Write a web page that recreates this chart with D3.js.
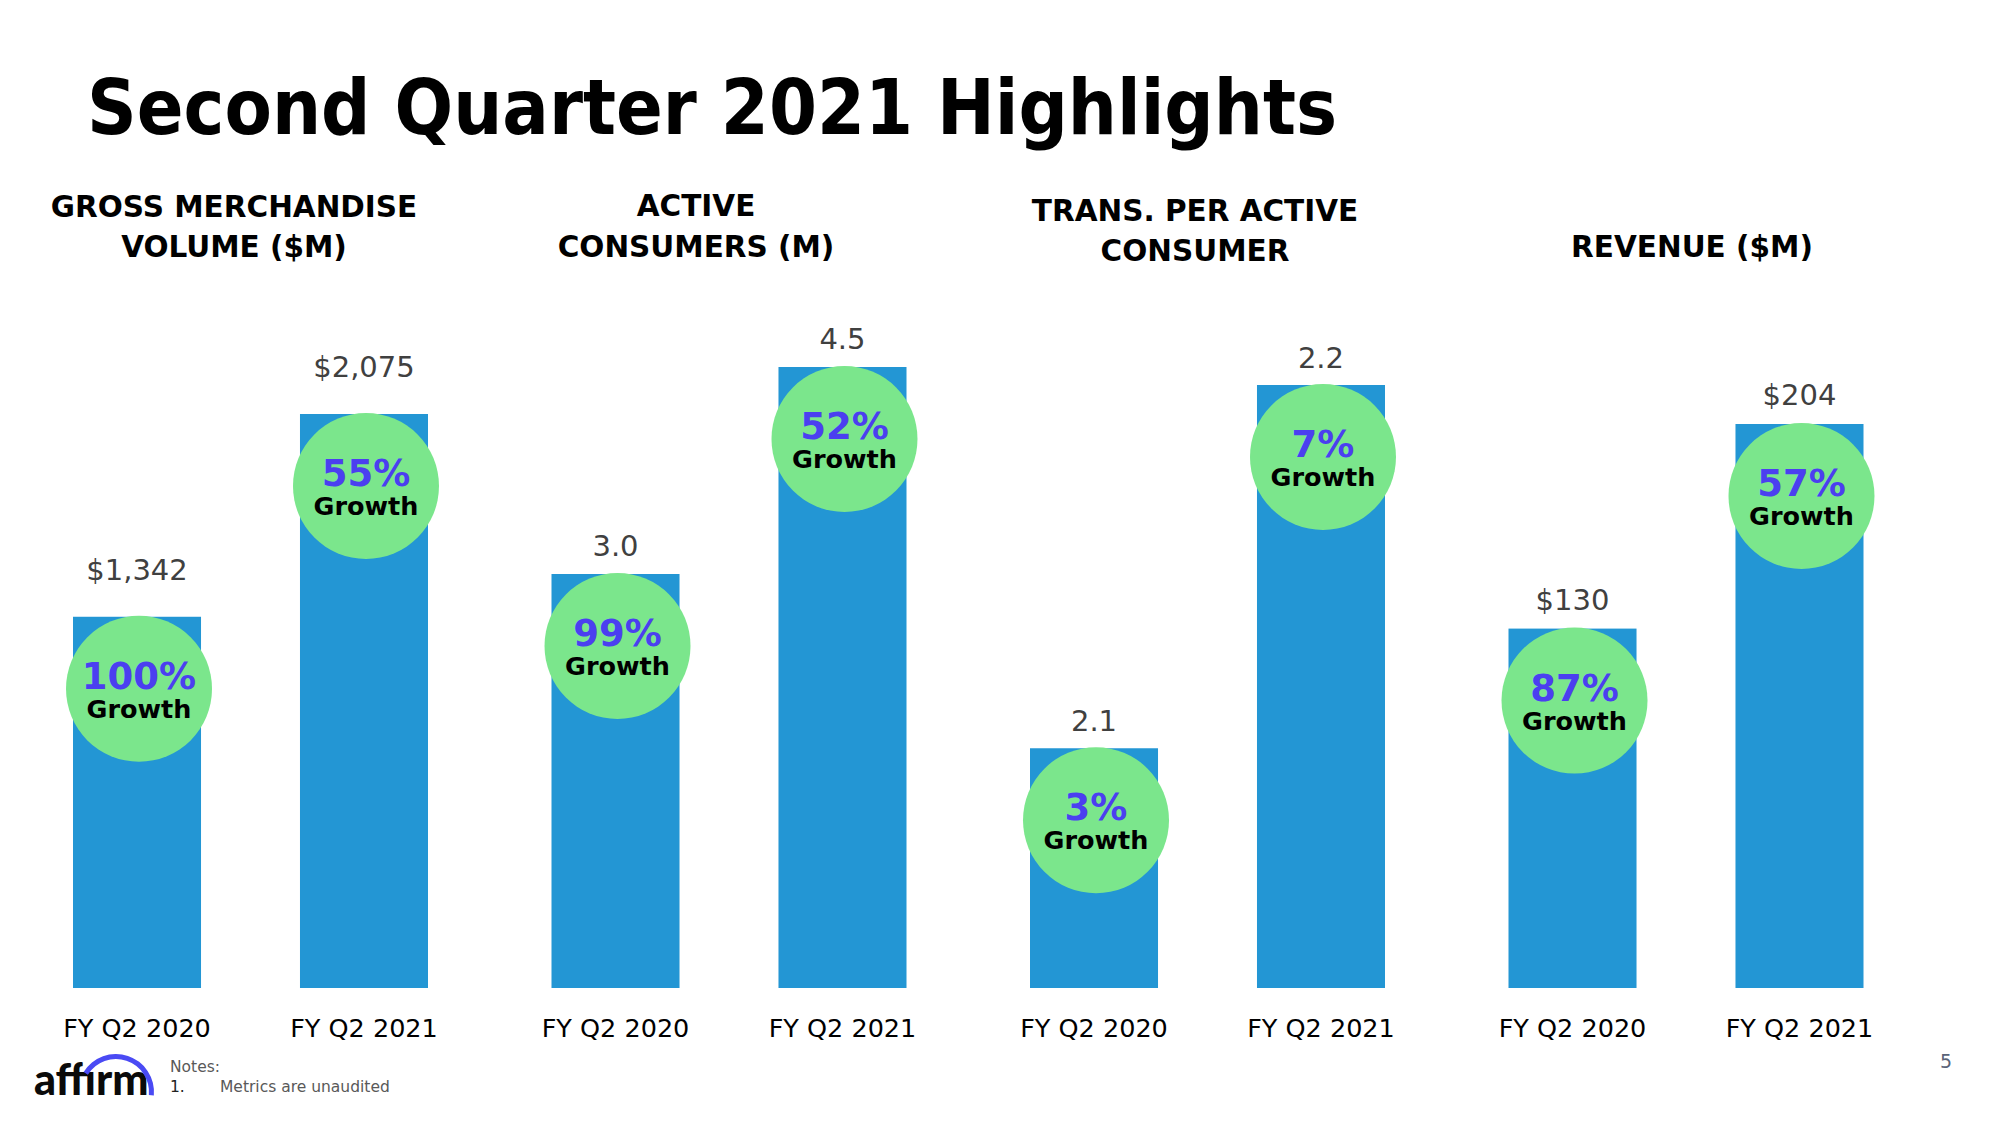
<!DOCTYPE html>
<html>
<head>
<meta charset="utf-8">
<script src="https://cdn.jsdelivr.net/npm/d3@7"></script>
<style>
  html, body { margin: 0; padding: 0; background: #fff; }
  svg { display: block; }
</style>
</head>
<body>
<svg id="chart" width="2000" height="1125"></svg>
<script>
// ---------------- DATA ----------------
const title = "Second Quarter 2021 Highlights";
const panelIds = ["gmv", "consumers", "trans", "revenue"];
const panelTitles = [
  ["GROSS MERCHANDISE", "VOLUME ($M)"],
  ["ACTIVE", "CONSUMERS (M)"],
  ["TRANS. PER ACTIVE", "CONSUMER"],
  ["REVENUE ($M)"]
];
const periods = ["FY Q2 2020", "FY Q2 2021"];
const gmvValues = [1342, 2075];
const consumerValues = [3.0, 4.5];
const transValues = [2.1, 2.2];
const revenueValues = [130, 204];
const valueLabels = [
  ["$1,342", "$2,075"],
  ["3.0", "4.5"],
  ["2.1", "2.2"],
  ["$130", "$204"]
];
const growthLabels = [
  ["100%", "55%"],
  ["99%", "52%"],
  ["3%", "7%"],
  ["87%", "57%"]
];
const growthWord = "Growth";
const notesTitle = "Notes:";
const notesItems = ["Metrics are unaudited"];
const pageNumber = "5";

const seriesValues = [gmvValues, consumerValues, transValues, revenueValues];

// ---------------- LAYOUT ----------------
const W = 2000, H = 1125;
const baseY = 988;
// value scale per panel: [domainMin, domainMax, rangeTop]
const scaleSpec = [
  [0, 2075, 414],
  [0, 4.5, 367],
  [2.034, 2.2, 385],
  [0, 204, 424]
];
const labelGap = [37, 18, 17, 19];
const headingX = [234, 696, 1195, 1692];
const headingBase = [[217, 257], [216, 257], [221, 261], [257]];
const bubbleR = 73;

const C = {
  bar: "#2396d4",
  bubble: "#7be68c",
  pct: "#4b3ff0",
  value: "#404040",
  text: "#000000",
  note: "#595959",
  logoArc: "#4a4af4"
};
const FONT = "'DejaVu Sans', Verdana, sans-serif";

const svg = d3.select("#chart");

// Title
const t = svg.append("text")
  .attr("x", 87).attr("y", 134)
  .attr("font-family", FONT)
  .attr("font-weight", "bold")
  .attr("font-size", 77)
  .attr("fill", C.text)
  .text(title);
const tw = t.node().getComputedTextLength();
if (tw > 1250) t.attr("textLength", 1250).attr("lengthAdjust", "spacingAndGlyphs");

// Panel band scale
const panelScale = d3.scaleBand().domain(panelIds).range([73, 73 + 4 * 478.5]).padding(0);
const barScale = d3.scaleBand().domain(periods).range([0, 355]).paddingInner(0.436).paddingOuter(0);

panelIds.forEach((pid, pi) => {
  const g = svg.append("g").attr("transform", `translate(${panelScale(pid)},0)`);
  const [d0, d1, top] = scaleSpec[pi];
  const y = d3.scaleLinear().domain([d0, d1]).range([baseY, top]);
  const vals = seriesValues[pi];
  const data = periods.map((p, i) => ({ p, v: vals[i], label: valueLabels[pi][i], g: growthLabels[pi][i] }));
  const bw = barScale.bandwidth();

  // Heading
  const hx = headingX[pi] - panelScale(pid);
  panelTitles[pi].forEach((line, li) => {
    g.append("text")
      .attr("x", hx).attr("y", headingBase[pi][li])
      .attr("text-anchor", "middle")
      .attr("font-family", FONT).attr("font-weight", "bold")
      .attr("font-size", 29.5).attr("fill", C.text)
      .text(line);
  });

  // Bars
  g.selectAll("rect.bar").data(data).enter().append("rect")
    .attr("class", "bar")
    .attr("x", d => barScale(d.p))
    .attr("y", d => y(d.v))
    .attr("width", bw)
    .attr("height", d => baseY - y(d.v))
    .attr("fill", C.bar);

  // Value labels
  g.selectAll("text.val").data(data).enter().append("text")
    .attr("class", "val")
    .attr("x", d => barScale(d.p) + bw / 2)
    .attr("y", d => y(d.v) - labelGap[pi])
    .attr("text-anchor", "middle")
    .attr("font-family", FONT).attr("font-size", 29)
    .attr("fill", C.value)
    .text(d => d.label);

  // Bubbles
  const bub = g.selectAll("g.bub").data(data).enter().append("g")
    .attr("class", "bub")
    .attr("transform", d => `translate(${barScale(d.p) + bw / 2 + 2},${y(d.v) + bubbleR - 1})`);
  bub.append("circle").attr("r", bubbleR).attr("fill", C.bubble);
  bub.append("text")
    .attr("y", 0).attr("text-anchor", "middle")
    .attr("font-family", FONT).attr("font-weight", "bold")
    .attr("font-size", 37).attr("fill", C.pct)
    .text(d => d.g);
  bub.append("text")
    .attr("y", 29).attr("text-anchor", "middle")
    .attr("font-family", FONT).attr("font-weight", "bold")
    .attr("font-size", 25.5).attr("fill", C.text)
    .text(growthWord);

  // Category axis labels
  const axis = d3.axisBottom(barScale).tickSize(0).tickPadding(0);
  const ax = g.append("g").attr("transform", `translate(0,${baseY})`).call(axis);
  ax.select(".domain").remove();
  ax.selectAll("text")
    .attr("y", 49).attr("dy", 0)
    .attr("font-family", FONT).attr("font-size", 25.5)
    .attr("fill", C.text);
});

// Footer: logo
const logo = svg.append("g");
logo.append("text")
  .attr("x", 34).attr("y", 1095)
  .attr("font-family", "Lato, 'Open Sans', sans-serif")
  .attr("font-weight", 900)
  .attr("font-size", 43)
  .attr("fill", "#0a0a0a")
  .text("aff\u0131rm");
logo.append("path")
  .attr("transform", "translate(116,1092)")
  .attr("d", d3.arc().innerRadius(33).outerRadius(38).startAngle(-1.02).endAngle(1.66)())
  .attr("fill", C.logoArc);

// Notes
svg.append("text")
  .attr("x", 170).attr("y", 1072)
  .attr("font-family", FONT).attr("font-size", 15.5)
  .attr("fill", C.note).text(notesTitle);
notesItems.forEach((n, i) => {
  svg.append("text").attr("x", 170).attr("y", 1092 + i * 20)
    .attr("font-family", FONT).attr("font-size", 15.5)
    .attr("fill", "#222").text(`${i + 1}.`);
  svg.append("text").attr("x", 220).attr("y", 1092 + i * 20)
    .attr("font-family", FONT).attr("font-size", 15.5)
    .attr("fill", C.note).text(n);
});

// Page number
svg.append("text")
  .attr("x", 1946).attr("y", 1068)
  .attr("text-anchor", "middle")
  .attr("font-family", FONT).attr("font-size", 19)
  .attr("fill", "#5a6478").text(pageNumber);
</script>
</body>
</html>
